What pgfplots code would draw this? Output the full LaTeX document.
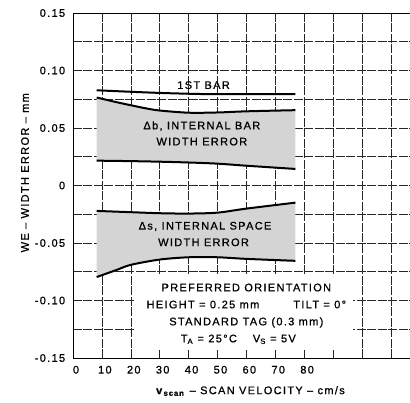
\documentclass[border=0pt]{standalone}
\usepackage{fontspec}
\setmainfont{Liberation Sans}[LetterSpace=12, FakeBold=0.8]
\usepackage{pgfplots}
\pgfplotsset{compat=1.18}
\usepgfplotslibrary{fillbetween}
\usetikzlibrary{calc}

\pgfplotstableread{
x y
8.2 0.0828
20 0.0815
30 0.0805
40 0.0798
50 0.0794
77 0.0794
}\firstbar

\pgfplotstableread{
x y
8.2 0.0765
15 0.0725
20 0.0698
25 0.0672
30 0.0652
40 0.0633
50 0.0635
60 0.0645
77 0.0655
}\dbupper

\pgfplotstableread{
x y
8.2 0.0216
20 0.0212
30 0.0207
40 0.0200
50 0.0190
60 0.0172
77 0.0144
}\dblower

\pgfplotstableread{
x y
8.2 -0.0221
20 -0.0232
30 -0.0241
40 -0.0244
50 -0.0236
60 -0.0201
77 -0.0149
}\dsupper

\pgfplotstableread{
x y
8.2 -0.0796
15 -0.0735
20 -0.0690
30 -0.0644
40 -0.0624
50 -0.0624
60 -0.0638
77 -0.0655
}\dslower

\begin{document}
\fontsize{11}{13}\selectfont
\begin{tikzpicture}
\begin{axis}[name=ax, set layers,
  scale only axis, width=338pt, height=345pt,
  xmin=0, xmax=117, ymin=-0.15, ymax=0.15,
  xtick={0,10,...,110},
  xticklabels={0,10,20,30,40,50,60,70,80,,,},
  ytick={-0.15,-0.1,-0.05,0,0.05,0.1,0.15},
  yticklabels={-0.15,-0.10,-0.05,0,0.05,0.10,0.15},
  minor ytick={-0.125,-0.075,-0.025,0.025,0.075,0.125},
  grid=both,
  major tick length=0pt, minor tick length=0pt,
  major grid style={black!85, line width=0.55pt, dash pattern=on 9pt off 1.5pt},
  minor grid style={black!85, line width=0.55pt, dash pattern=on 9pt off 1.5pt},
  axis line style={black, line width=0.9pt},
  xticklabel style={xshift=3pt, yshift=-4pt},
  yticklabel style={xshift=-4pt},
  xlabel={\textbf{v}\textsubscript{\textbf{scan}} -- SCAN VELOCITY -- cm/s},
  ylabel={WE -- WIDTH ERROR -- mm},
  xlabel style={at={(axis description cs:0.525,-0.0957)}, anchor=center},
  ylabel style={at={(axis description cs:-0.142,0.537)}, anchor=center},
]
\addplot[name path=bu, black, line width=2pt, smooth] table {\dbupper};
\addplot[name path=bl, black, line width=2pt, smooth] table {\dblower};
\addplot[name path=su, black, line width=2pt, smooth] table {\dsupper};
\addplot[name path=sl, black, line width=2pt, smooth] table {\dslower};
\addplot[black!17] fill between[of=bu and bl];
\addplot[black!17] fill between[of=su and sl];
\addplot[black, line width=2pt, smooth] table {\firstbar};

\node at (axis cs:45.2,0.0873) {1ST BAR};
\node at (axis cs:44.6,0.0517) {Δb, INTERNAL BAR};
\node at (axis cs:44.6,0.0382) {WIDTH ERROR};
\node at (axis cs:45.7,-0.0356) {Δs, INTERNAL SPACE};
\node at (axis cs:45.2,-0.0494) {WIDTH ERROR};

\fill[white] (axis cs:21.5,-0.143) rectangle (axis cs:97,-0.078);
\node[align=center, font=\fontsize{11}{17}\selectfont] at (axis cs:60,-0.1116)
  {PREFERRED ORIENTATION\\
   HEIGHT = 0.25 mm\hspace{34pt}TILT = 0°\\
   STANDARD TAG (0.3 mm)\\
   T\textsubscript{A} = 25°C\hspace{16pt}V\textsubscript{S} = 5V\mbox{}\hspace{16pt}\mbox{}};
\end{axis}
\pgfresetboundingbox
\path[use as bounding box] ($(ax.south west)+(-73pt,-44pt)$) rectangle ($(ax.north east)+(-1pt,13pt)$);
\end{tikzpicture}
\end{document}
